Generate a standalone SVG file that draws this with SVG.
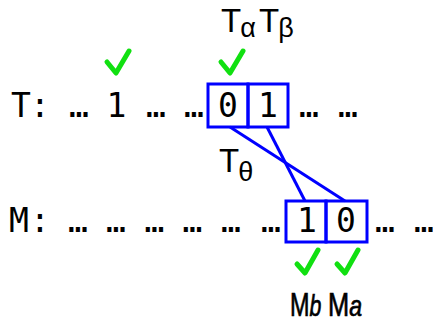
<svg xmlns="http://www.w3.org/2000/svg" width="433" height="321" viewBox="0 0 433 321">
<style>
.mono{font-family:"DejaVu Sans Mono","Liberation Mono",monospace;font-size:33px;fill:#000;text-anchor:middle}
.lab{font-family:"Liberation Sans","Open Sans",sans-serif;font-size:33px;fill:#000}
.sub{font-size:27px}
.it{font-size:30px;font-style:italic}
.heavy{stroke:#000;stroke-width:0.7}
.box{fill:none;stroke:#0000ff;stroke-width:3}
.chk{fill:none;stroke:#11e011;stroke-width:5;stroke-linecap:round;stroke-linejoin:round}
.link{stroke:#0000ff;stroke-width:3;fill:none}
</style>
<rect width="433" height="321" fill="#fff"/>
<g id="rowT">
<text class="mono" x="21" y="117">T</text>
<text class="mono" x="40" y="117">:</text>
<text class="mono" x="79" y="117">…</text>
<text class="mono" x="116.5" y="117">1</text>
<text class="mono" x="156" y="117">…</text>
<text class="mono" x="194" y="117">…</text>
<text class="mono" x="309" y="117">…</text>
<text class="mono" x="348" y="117">…</text>
</g>
<g id="T-alpha">
<rect class="box" x="208" y="84" width="40" height="43"/>
<text class="mono" x="228" y="117">0</text>
</g>
<g id="T-beta">
<rect class="box" x="248" y="84" width="40" height="43"/>
<text class="mono" x="268" y="117">1</text>
</g>
<g id="rowM">
<text class="mono" x="19" y="232">M</text>
<text class="mono" x="40" y="232">:</text>
<text class="mono" x="78" y="232">…</text>
<text class="mono" x="116" y="232">…</text>
<text class="mono" x="154.5" y="232">…</text>
<text class="mono" x="192.5" y="232">…</text>
<text class="mono" x="231" y="232">…</text>
<text class="mono" x="271" y="232">…</text>
<text class="mono" x="385" y="232">…</text>
<text class="mono" x="424" y="232">…</text>
</g>
<g id="M-b">
<rect class="box" x="286" y="201" width="40" height="41"/>
<text class="mono" x="307" y="232">1</text>
</g>
<g id="M-a">
<rect class="box" x="326" y="201" width="41" height="41"/>
<text class="mono" x="346" y="232">0</text>
</g>
<g id="connectors">
<line class="link" x1="230" y1="127" x2="345" y2="201"/>
<line class="link" x1="267" y1="127" x2="305" y2="201"/>
</g>
<g id="checks">
<polyline class="chk" points="107,62 116,73 129,51"/>
<polyline class="chk" points="221,62 230,73 243,51"/>
<polyline class="chk" points="297,264 305,273 318,250"/>
<polyline class="chk" points="337,264 345,273 358,250"/>
</g>
<g id="labels">
<text class="lab" x="221" y="32">T<tspan class="sub" dx="-1" dy="5">α</tspan></text>
<text class="lab" x="259" y="32">T<tspan class="sub" dx="-1" dy="5">β</tspan></text>
<text class="lab" x="219" y="172">T<tspan class="sub" dx="-1" dy="9">θ</tspan></text>
<text class="lab heavy" transform="translate(290,316) scale(0.71,1)">M<tspan class="it">b</tspan></text>
<text class="lab heavy" transform="translate(328,316) scale(0.77,1)">M<tspan class="it">a</tspan></text>
</g>
</svg>
